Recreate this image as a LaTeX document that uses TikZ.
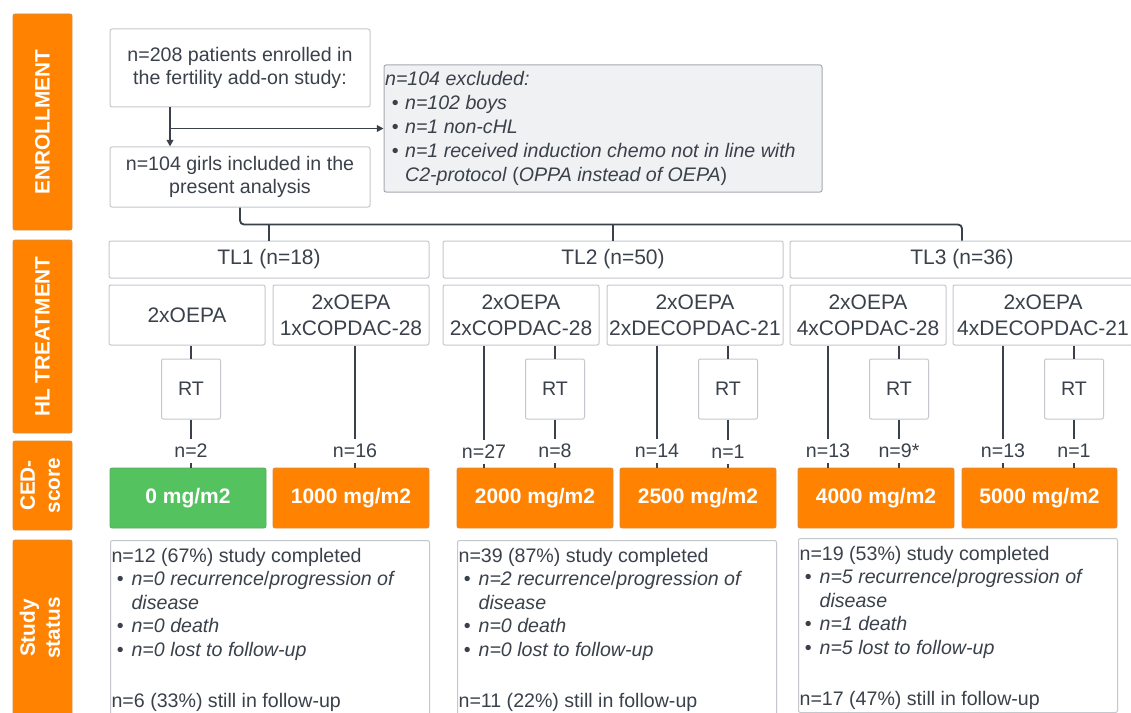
\documentclass[tikz,border=0pt]{standalone}
\usepackage{fontspec}
\setmainfont{Liberation Sans}
\usetikzlibrary{arrows.meta,calc}
\definecolor{ink}{RGB}{58,65,74}
\definecolor{bgray}{RGB}{196,199,204}
\definecolor{orng}{RGB}{255,130,0}
\definecolor{oedge}{RGB}{214,140,70}
\definecolor{grn}{RGB}{84,194,95}
\definecolor{gedge}{RGB}{90,170,100}
\definecolor{exfill}{RGB}{240,241,243}
\definecolor{exedge}{RGB}{165,169,175}
\newcommand{\bl}{\hspace*{4pt}\makebox[11pt][l]{\textbullet}}
\newcommand{\cont}{\hspace*{15pt}}
\newcommand{\blx}{\hspace*{5pt}\makebox[10pt][l]{\textbullet}}
\begin{document}
\begin{tikzpicture}[x=0.75pt,y=-0.75pt,
  every node/.style={text=ink},
  base/.style={font=\fontsize{14.7pt}{17.6pt}\selectfont},
  big/.style={font=\fontsize{15.75pt}{19.3pt}\selectfont},
  sz/.style 2 args={minimum width=#1*0.75pt, minimum height=#2*0.75pt},
  wbox/.style={draw=bgray, line width=0.75pt, rounded corners=1.5pt, fill=white, inner sep=0pt, align=center},
  side/.style={fill=orng, draw=oedge, line width=0.6pt, rounded corners=1.5pt, text=white, font=\fontsize{15.6pt}{18.75pt}\selectfont\bfseries, inner sep=0pt},
  ced/.style={fill=orng, draw=oedge, line width=0.6pt, rounded corners=1.5pt, text=white, font=\fontsize{15.75pt}{19pt}\selectfont\bfseries, inner sep=0pt, minimum height=45pt},
  conn/.style={draw=ink, line width=1.4pt},
  arr/.style={conn, -{Triangle[length=5pt,width=5pt]}},
  lab/.style={base, inner sep=0pt, text height=13.5pt, text depth=4.5pt},
  txt/.style={base, inner sep=0pt, align=left, anchor=north west},
]
\fill[white] (0,0) rectangle (1131,713);
\clip (0,0) rectangle (1131,713);

% side labels
\node[side, sz={59}{216}] (sE) at (42.5,122) {\rotatebox{90}{ENROLLMENT}};
\node[side, sz={59}{193}] (sH) at (42.5,336.5) {\rotatebox{90}{HL TREATMENT}};
\node[side, sz={59}{89}] (sC) at (42.5,485.5) {\rotatebox{90}{\begin{tabular}{@{}c@{}}CED-\\score\end{tabular}}};
\node[side, sz={59}{176}] (sS) at (42.5,628) {\rotatebox{90}{\begin{tabular}{@{}c@{}}Study\\status\end{tabular}}};

% enrollment
\node[wbox, base, sz={260}{78}] (e1) at (240,68) {n=208 patients enrolled in\\the fertility add-on study:};
\node[wbox, base, sz={260}{60}] (e2) at (240,177) {n=104 girls included in the\\present analysis};
\node[wbox, draw=exedge, fill=exfill, sz={438}{127}] (ex) at (603,128.5) {};
\node[txt, font=\fontsize{14.7pt}{18pt}\selectfont] (ext) at ([xshift=1pt,yshift=-5.25pt]ex.north west)
 {\textit{n=104 excluded:}\\
  \blx\textit{n=102 boys}\\
  \blx\textit{n=1 non-cHL}\\
  \blx\textit{n=1 received induction chemo not in line with}\\
  \cont\textit{C2-protocol} (\textit{OPPA instead of OEPA})};

\coordinate (ea) at ([xshift=-52.5pt]e1.south);
\draw[arr] (ea) -- (ea |- e2.north);
\draw[arr] (ea |- ex.west) -- (ex.west);

% TL row
\node[wbox, big, sz={320}{37}] (tl1) at (269,259.5) {TL1 (n=18)};
\node[wbox, big, sz={340}{37}] (tl2) at (613,259.5) {TL2 (n=50)};
\node[wbox, big, sz={344}{37}] (tl3) at (962,259.5) {TL3 (n=36)};
\draw[conn, rounded corners=3pt] (e2.south) -- ++(0,17) -| (tl3.north);
\draw[conn] (tl1.north) -- ++(0,-17);
\draw[conn] (tl2.north) -- ++(0,-17);

% treatment row
\node[wbox, big, sz={156}{60}] (tA) at (187,315) {2xOEPA};
\node[wbox, big, sz={156}{60}] (tB) at (351,315) {2xOEPA\\1xCOPDAC-28};
\node[wbox, big, sz={156}{60}] (tC) at (521,315) {2xOEPA\\2xCOPDAC-28};
\node[wbox, big, sz={176}{60}] (tD) at (695,315) {2xOEPA\\2xDECOPDAC-21};
\node[wbox, big, sz={156}{60}] (tE) at (868,315) {2xOEPA\\4xCOPDAC-28};
\node[wbox, big, sz={180}{60}] (tF) at (1043,315) {2xOEPA\\4xDECOPDAC-21};

% RT boxes
\node[wbox, base, sz={59}{60}] (r1) at (191,389) {RT};
\node[wbox, base, sz={59}{60}] (r2) at (555,389) {RT};
\node[wbox, base, sz={59}{60}] (r3) at (728,389) {RT};
\node[wbox, base, sz={59}{60}] (r4) at (899,389) {RT};
\node[wbox, base, sz={59}{60}] (r5) at (1074,389) {RT};

% n labels
\node[lab] (n1) at (191,451) {n=2};
\node[lab] (n2) at (355,451) {n=16};
\node[lab] (n3) at (484,452) {n=27};
\node[lab] (n4) at (555,451) {n=8};
\node[lab] (n5) at (657,451) {n=14};
\node[lab] (n6) at (728,452) {n=1};
\node[lab] (n7) at (828,451) {n=13};
\node[lab] (n8) at (899,451) {n=9*};
\node[lab] (n9) at (1003,451) {n=13};
\node[lab] (n10) at (1074,451) {n=1};

% CED row
\node[ced, fill=grn, draw=gedge, sz={156}{60}] (c0) at (188,498) {0 mg/m2};
\node[ced, sz={156}{60}] (c1) at (351,498) {1000 mg/m2};
\node[ced, sz={156}{60}] (c2) at (535,498) {2000 mg/m2};
\node[ced, sz={156}{60}] (c3) at (698,498) {2500 mg/m2};
\node[ced, sz={156}{60}] (c4) at (876,498) {4000 mg/m2};
\node[ced, sz={155}{60}] (c5) at (1039.5,498) {5000 mg/m2};

% connectors treatment -> RT -> label -> CED
\draw[conn] (r1 |- tA.south) -- (r1.north);
\draw[conn] (r1.south) -- (n1.north);
\draw[conn] (n2 |- tB.south) -- (n2.north);
\draw[conn] (n3 |- tC.south) -- (n3.north);
\draw[conn] (r2 |- tC.south) -- (r2.north);
\draw[conn] (r2.south) -- (n4.north);
\draw[conn] (n5 |- tD.south) -- (n5.north);
\draw[conn] (r3 |- tD.south) -- (r3.north);
\draw[conn] (r3.south) -- (n6.north);
\draw[conn] (n7 |- tE.south) -- (n7.north);
\draw[conn] (r4 |- tE.south) -- (r4.north);
\draw[conn] (r4.south) -- (n8.north);
\draw[conn] (n9 |- tF.south) -- (n9.north);
\draw[conn] (r5 |- tF.south) -- (r5.north);
\draw[conn] (r5.south) -- (n10.north);

\foreach \n/\c in {n1/c0,n2/c1,n3/c2,n4/c2,n5/c3,n6/c3,n7/c4,n8/c4,n9/c5,n10/c5}
  \draw[conn, line width=1pt] (\n.south) -- (\n.south |- \c.north);

% study status
\node[wbox, sz={319}{190}, anchor=north west] (s1) at (110,540) {};
\node[wbox, sz={319}{190}, anchor=north west] (s2) at (457,540) {};
\node[wbox, sz={319}{174}, anchor=north west] (s3) at (798,538) {};

\node[txt] (s1t) at ([xshift=1pt,yshift=-5.8pt]s1.north west)
 {n=12 (67\%) study completed\\
  \bl\textit{n=0 recurrence\textup{/}progression of}\\
  \cont\textit{disease}\\
  \bl\textit{n=0 death}\\
  \bl\textit{n=0 lost to follow-up}\\[20.6pt]
  n=6 (33\%) still in follow-up};
\node[txt] (s2t) at ([xshift=1pt,yshift=-5.8pt]s2.north west)
 {n=39 (87\%) study completed\\
  \bl\textit{n=2 recurrence\textup{/}progression of}\\
  \cont\textit{disease}\\
  \bl\textit{n=0 death}\\
  \bl\textit{n=0 lost to follow-up}\\[20.6pt]
  n=11 (22\%) still in follow-up};
\node[txt] (s3t) at ([xshift=1pt,yshift=-5.8pt]s3.north west)
 {n=19 (53\%) study completed\\
  \bl\textit{n=5 recurrence\textup{/}progression of}\\
  \cont\textit{disease}\\
  \bl\textit{n=1 death}\\
  \bl\textit{n=5 lost to follow-up}\\[20.6pt]
  n=17 (47\%) still in follow-up};
\end{tikzpicture}
\end{document}
